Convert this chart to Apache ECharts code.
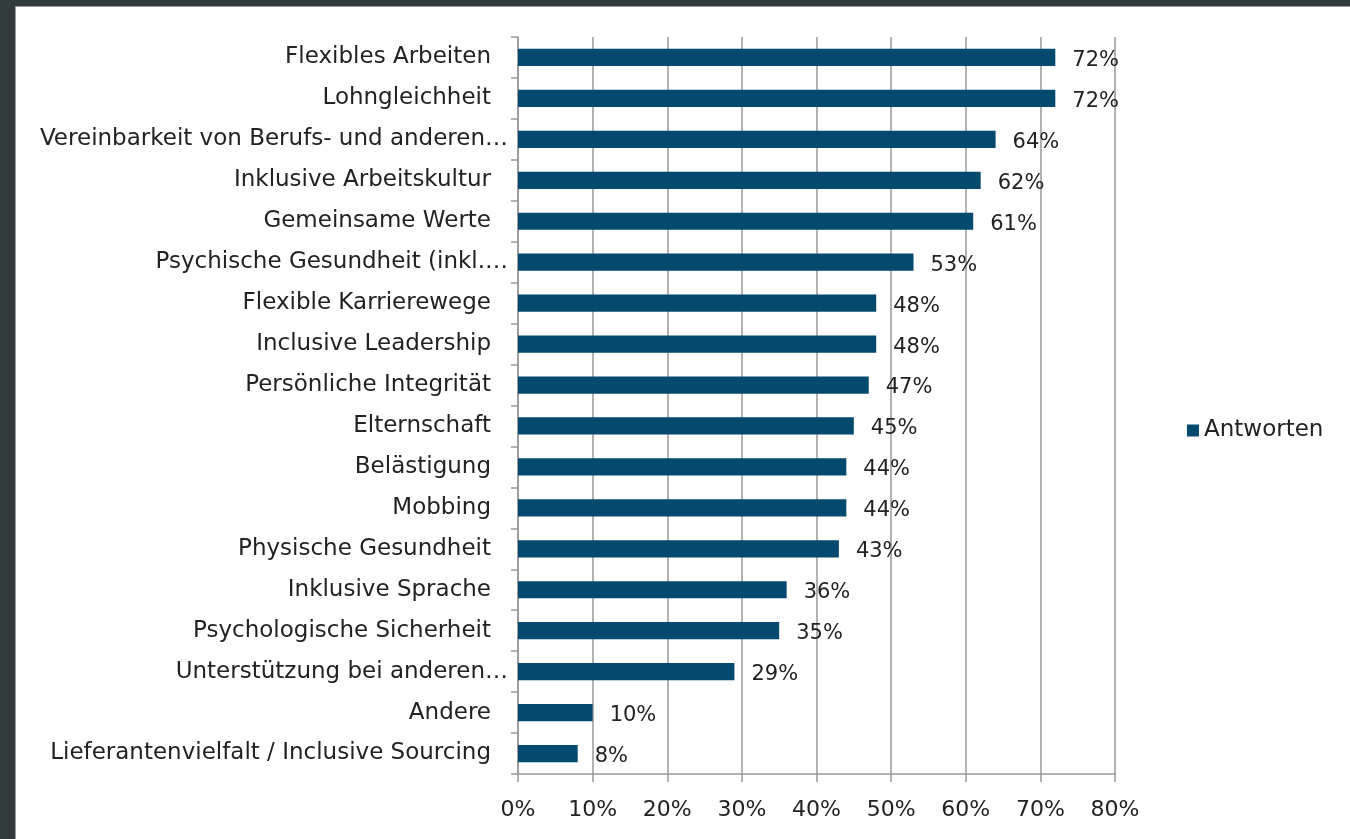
<!DOCTYPE html>
<html>
<head>
<meta charset="utf-8">
<script src="https://cdn.jsdelivr.net/npm/echarts@6/dist/echarts.min.js"></script>
<style>
html, body { margin: 0; padding: 0; background: #323b3b; width: 1350px; height: 839px; overflow: hidden; }
#chart { position: absolute; left: 15px; top: 6px; width: 1335px; height: 833px; background: #fff; border-left: 1px solid #9a9a9a; border-top: 1px solid #9a9a9a; }
</style>
</head>
<body>
<div id="chart"></div>
<script>
// Kategorien von oben nach unten
var categories = ['Flexibles Arbeiten', 'Lohngleichheit', 'Vereinbarkeit von Berufs- und anderen…',
    'Inklusive Arbeitskultur', 'Gemeinsame Werte', 'Psychische Gesundheit (inkl.…',
    'Flexible Karrierewege', 'Inclusive Leadership', 'Persönliche Integrität', 'Elternschaft',
    'Belästigung', 'Mobbing', 'Physische Gesundheit', 'Inklusive Sprache',
    'Psychologische Sicherheit', 'Unterstützung bei anderen…', 'Andere',
    'Lieferantenvielfalt / Inclusive Sourcing'];
var values = [72, 72, 64, 62, 61, 53, 48, 48, 47, 45, 44, 44, 43, 36, 35, 29, 10, 8];
var xTicks = [0, 10, 20, 30, 40, 50, 60, 70, 80];

var myChart = echarts.init(document.getElementById('chart'));
var font = '"DejaVu Sans", sans-serif';

// gekürzte Beschriftungen ragen wie im Original etwas weiter nach rechts
var yData = categories.map(function (c) {
    if (c.charAt(c.length - 1) === '…') {
        return { value: c, textStyle: { padding: [0, -17, 0, 0] } };
    }
    return c;
});

var option = {
    animation: false,
    textStyle: { fontFamily: font },
    legend: {
        data: ['Antworten'],
        left: 1166,
        top: 407,
        icon: 'rect',
        itemWidth: 12,
        itemHeight: 12,
        itemGap: 8,
        textStyle: { color: '#222', fontSize: 23, fontFamily: font }
    },
    grid: { left: 502, right: 236, top: 30, bottom: 66 },
    xAxis: {
        type: 'value',
        min: xTicks[0],
        max: xTicks[xTicks.length - 1],
        interval: 10,
        axisLine: { show: true, lineStyle: { color: '#999', width: 1.5 } },
        axisTick: { show: true, length: 8, lineStyle: { color: '#999', width: 1.5 } },
        axisLabel: { color: '#222', fontSize: 22, margin: 25, fontFamily: font, formatter: '{value}%' },
        splitLine: { show: true, lineStyle: { color: '#999', width: 1.5 } }
    },
    yAxis: {
        type: 'category',
        inverse: true,
        data: yData,
        axisLine: { show: true, lineStyle: { color: '#999', width: 1.5 } },
        axisTick: { show: true, length: 7, lineStyle: { color: '#999', width: 1.5 } },
        axisLabel: { color: '#222', fontSize: 23, margin: 27, fontFamily: font },
        splitLine: { show: false }
    },
    series: [{
        name: 'Antworten',
        type: 'bar',
        data: values,
        barWidth: '42%',
        itemStyle: { color: '#034a6e' },
        label: {
            show: true,
            position: 'right',
            distance: 17,
            offset: [0, 3],
            color: '#222',
            fontSize: 21,
            fontFamily: font,
            formatter: '{c}%'
        }
    }]
};
myChart.setOption(option);
window.addEventListener('resize', function () {
    myChart.resize();
});
</script>
</body>
</html>
